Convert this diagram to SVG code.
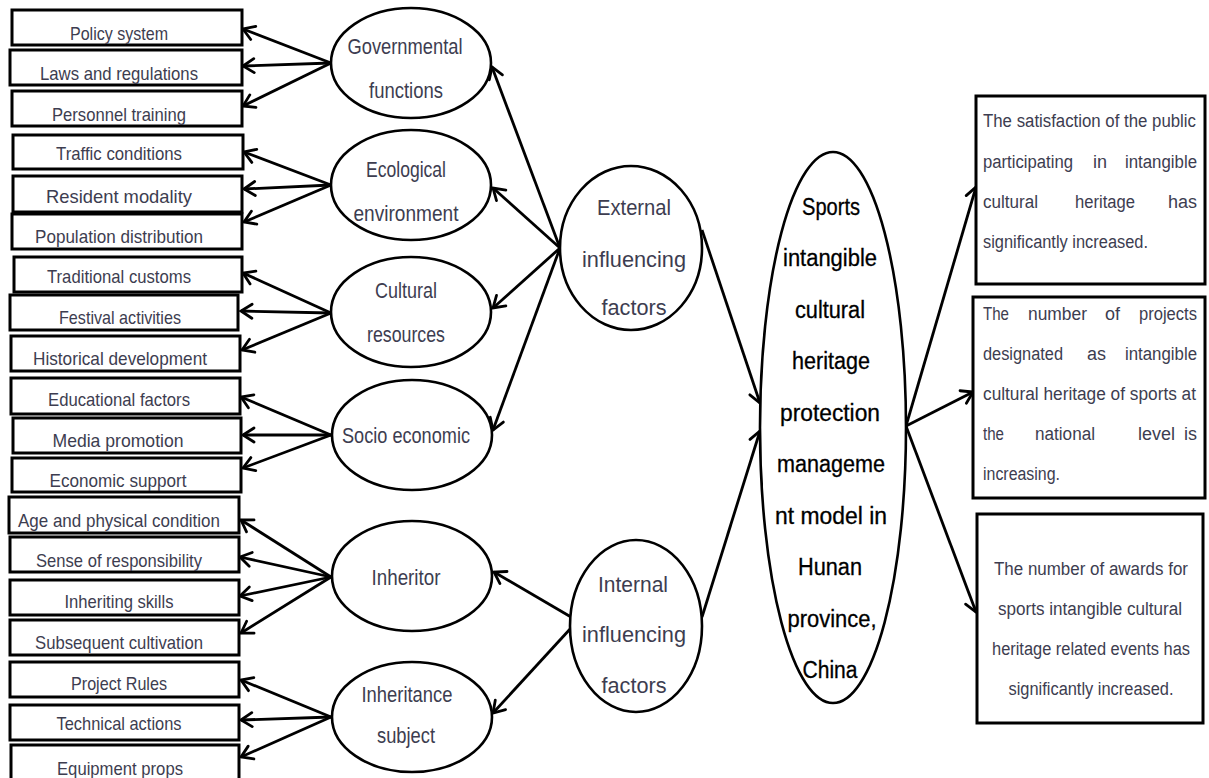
<svg xmlns="http://www.w3.org/2000/svg" width="1209" height="778" viewBox="0 0 1209 778">
<style>
.box{fill:#fff;stroke:#000;stroke-width:3}
.ell{fill:#fff;stroke:#000;stroke-width:2.6}
.lt{font-family:"Liberation Sans",Arial,sans-serif;font-size:19px;fill:#3d3d50;text-anchor:middle}
.et{font-family:"Liberation Sans",Arial,sans-serif;font-size:22px;fill:#3d3d50;text-anchor:middle}
.ct{font-family:"Liberation Sans",Arial,sans-serif;font-size:23px;fill:#000;stroke:#000;stroke-width:0.3;text-anchor:middle}
.rt{font-family:"Liberation Sans",Arial,sans-serif;font-size:18px;fill:#3d3d50}
.con line{stroke:#000;stroke-width:2.8;marker-end:url(#ah)}
</style>
<defs>
<marker id="ah" viewBox="-14 -9 17 18" refX="0" refY="0" markerWidth="17" markerHeight="18" markerUnits="userSpaceOnUse" orient="auto">
<path d="M-11,-7 L0,0 L-11,7" fill="none" stroke="#000" stroke-width="2.8" stroke-linecap="round" stroke-linejoin="miter"/>
</marker>
</defs>
<rect width="1209" height="778" fill="#fff"/>

<g id="connectors" class="con">
<line x1="331" y1="63" x2="243" y2="29"/>
<line x1="331" y1="63" x2="243" y2="66"/>
<line x1="331" y1="63" x2="243" y2="106"/>
<line x1="331" y1="185" x2="244" y2="152"/>
<line x1="331" y1="185" x2="244" y2="189"/>
<line x1="331" y1="185" x2="244" y2="222"/>
<line x1="331" y1="313" x2="243" y2="273"/>
<line x1="331" y1="313" x2="241" y2="311"/>
<line x1="331" y1="313" x2="242" y2="350"/>
<line x1="331" y1="435" x2="241" y2="397"/>
<line x1="331" y1="435" x2="243" y2="435"/>
<line x1="331" y1="435" x2="243" y2="468"/>
<line x1="331" y1="577" x2="241" y2="520"/>
<line x1="331" y1="577" x2="240" y2="557"/>
<line x1="331" y1="577" x2="240" y2="596"/>
<line x1="331" y1="577" x2="241" y2="633"/>
<line x1="331" y1="717" x2="241" y2="680"/>
<line x1="331" y1="717" x2="241" y2="720"/>
<line x1="331" y1="717" x2="241" y2="757"/>
<line x1="560" y1="248" x2="492" y2="67"/>
<line x1="560" y1="248" x2="493" y2="188"/>
<line x1="560" y1="248" x2="493" y2="308"/>
<line x1="560" y1="248" x2="493" y2="430"/>
<line x1="571" y1="617" x2="494" y2="572"/>
<line x1="571" y1="628" x2="493" y2="713"/>
<line x1="702" y1="230" x2="760" y2="403"/>
<line x1="702" y1="617" x2="760" y2="431"/>
<line x1="906" y1="426" x2="976" y2="187"/>
<line x1="906" y1="426" x2="973" y2="392"/>
<line x1="906" y1="426" x2="976" y2="612"/>
</g>

<g id="n-policy"><rect class="box" x="12" y="10" width="230" height="35"/><text class="lt" x="119" y="40" textLength="98" lengthAdjust="spacingAndGlyphs">Policy system</text></g>
<g id="n-laws"><rect class="box" x="10" y="50" width="232" height="35"/><text class="lt" x="119" y="80" textLength="158" lengthAdjust="spacingAndGlyphs">Laws and regulations</text></g>
<g id="n-personnel"><rect class="box" x="12" y="91" width="230" height="35"/><text class="lt" x="119" y="121" textLength="134" lengthAdjust="spacingAndGlyphs">Personnel training</text></g>
<g id="n-traffic"><rect class="box" x="13" y="135" width="230" height="34"/><text class="lt" x="119" y="160" textLength="126" lengthAdjust="spacingAndGlyphs">Traffic conditions</text></g>
<g id="n-resident"><rect class="box" x="13" y="176" width="229" height="36"/><text class="lt" x="119" y="203" textLength="146" lengthAdjust="spacingAndGlyphs">Resident modality</text></g>
<g id="n-population"><rect class="box" x="12" y="214" width="230" height="35"/><text class="lt" x="119" y="243" textLength="168" lengthAdjust="spacingAndGlyphs">Population distribution</text></g>
<g id="n-traditional"><rect class="box" x="14" y="257" width="228" height="35"/><text class="lt" x="119" y="283" textLength="144" lengthAdjust="spacingAndGlyphs">Traditional customs</text></g>
<g id="n-festival"><rect class="box" x="10" y="295" width="228" height="35"/><text class="lt" x="120" y="324" textLength="122" lengthAdjust="spacingAndGlyphs">Festival activities</text></g>
<g id="n-historical"><rect class="box" x="11" y="336" width="229" height="35"/><text class="lt" x="120" y="365" textLength="174" lengthAdjust="spacingAndGlyphs">Historical development</text></g>
<g id="n-educational"><rect class="box" x="11" y="378" width="229" height="36"/><text class="lt" x="119" y="406" textLength="142" lengthAdjust="spacingAndGlyphs">Educational factors</text></g>
<g id="n-media"><rect class="box" x="13" y="418" width="228" height="35"/><text class="lt" x="118" y="447" textLength="131" lengthAdjust="spacingAndGlyphs">Media promotion</text></g>
<g id="n-economic"><rect class="box" x="12" y="458" width="229" height="34"/><text class="lt" x="118" y="487" textLength="137" lengthAdjust="spacingAndGlyphs">Economic support</text></g>
<g id="n-age"><rect class="box" x="9" y="497" width="230" height="36"/><text class="lt" x="119" y="527" textLength="202" lengthAdjust="spacingAndGlyphs">Age and physical condition</text></g>
<g id="n-sense"><rect class="box" x="10" y="537" width="229" height="35"/><text class="lt" x="119" y="567" textLength="166" lengthAdjust="spacingAndGlyphs">Sense of responsibility</text></g>
<g id="n-skills"><rect class="box" x="10" y="580" width="229" height="35"/><text class="lt" x="119" y="608" textLength="109" lengthAdjust="spacingAndGlyphs">Inheriting skills</text></g>
<g id="n-subsequent"><rect class="box" x="10" y="620" width="229" height="35"/><text class="lt" x="119" y="649" textLength="168" lengthAdjust="spacingAndGlyphs">Subsequent cultivation</text></g>
<g id="n-rules"><rect class="box" x="10" y="662" width="229" height="35"/><text class="lt" x="119" y="690" textLength="96" lengthAdjust="spacingAndGlyphs">Project Rules</text></g>
<g id="n-technical"><rect class="box" x="10" y="705" width="229" height="35"/><text class="lt" x="119" y="730" textLength="125" lengthAdjust="spacingAndGlyphs">Technical actions</text></g>
<g id="n-equipment"><rect class="box" x="11" y="745" width="228" height="40"/><text class="lt" x="120" y="775" textLength="126" lengthAdjust="spacingAndGlyphs">Equipment props</text></g>

<g id="n-governmental"><ellipse class="ell" cx="411" cy="63" rx="80" ry="55"/><text class="et" x="405" y="54" textLength="115" lengthAdjust="spacingAndGlyphs">Governmental</text><text class="et" x="406" y="98" textLength="74" lengthAdjust="spacingAndGlyphs">functions</text></g>
<g id="n-ecological"><ellipse class="ell" cx="411" cy="185" rx="80" ry="55"/><text class="et" x="406" y="177" textLength="80" lengthAdjust="spacingAndGlyphs">Ecological</text><text class="et" x="406" y="221" textLength="105" lengthAdjust="spacingAndGlyphs">environment</text></g>
<g id="n-cultural"><ellipse class="ell" cx="411" cy="312" rx="80" ry="55"/><text class="et" x="406" y="298" textLength="62" lengthAdjust="spacingAndGlyphs">Cultural</text><text class="et" x="406" y="342" textLength="78" lengthAdjust="spacingAndGlyphs">resources</text></g>
<g id="n-socio"><ellipse class="ell" cx="412" cy="435" rx="80" ry="55"/><text class="et" x="406" y="443" textLength="128" lengthAdjust="spacingAndGlyphs">Socio economic</text></g>
<g id="n-inheritor"><ellipse class="ell" cx="412" cy="576" rx="80" ry="55"/><text class="et" x="406" y="585" textLength="69" lengthAdjust="spacingAndGlyphs">Inheritor</text></g>
<g id="n-inheritance"><ellipse class="ell" cx="412" cy="717" rx="80" ry="55"/><text class="et" x="407" y="702" textLength="91" lengthAdjust="spacingAndGlyphs">Inheritance</text><text class="et" x="406" y="743" textLength="58" lengthAdjust="spacingAndGlyphs">subject</text></g>

<g id="n-external"><ellipse class="ell" cx="631" cy="248" rx="71" ry="82"/><text class="et" x="634" y="215" textLength="74" lengthAdjust="spacingAndGlyphs">External</text><text class="et" x="634" y="267" textLength="104" lengthAdjust="spacingAndGlyphs">influencing</text><text class="et" x="634" y="315" textLength="65" lengthAdjust="spacingAndGlyphs">factors</text></g>
<g id="n-internal"><ellipse class="ell" cx="636" cy="626" rx="66" ry="86"/><text class="et" x="633" y="592" textLength="70" lengthAdjust="spacingAndGlyphs">Internal</text><text class="et" x="634" y="642" textLength="104" lengthAdjust="spacingAndGlyphs">influencing</text><text class="et" x="634" y="693" textLength="65" lengthAdjust="spacingAndGlyphs">factors</text></g>

<g id="n-central"><ellipse class="ell" cx="833" cy="427.5" rx="73" ry="275.5"/>
<text class="ct" x="831" y="215" textLength="58" lengthAdjust="spacingAndGlyphs">Sports</text>
<text class="ct" x="830" y="266" textLength="94" lengthAdjust="spacingAndGlyphs">intangible</text>
<text class="ct" x="830" y="318" textLength="70" lengthAdjust="spacingAndGlyphs">cultural</text>
<text class="ct" x="831" y="369" textLength="78" lengthAdjust="spacingAndGlyphs">heritage</text>
<text class="ct" x="830" y="421" textLength="100" lengthAdjust="spacingAndGlyphs">protection</text>
<text class="ct" x="831" y="472" textLength="108" lengthAdjust="spacingAndGlyphs">manageme</text>
<text class="ct" x="831" y="524" textLength="112" lengthAdjust="spacingAndGlyphs">nt model in</text>
<text class="ct" x="830" y="575" textLength="64" lengthAdjust="spacingAndGlyphs">Hunan</text>
<text class="ct" x="832" y="627" textLength="89" lengthAdjust="spacingAndGlyphs">province,</text>
<text class="ct" x="830" y="678" textLength="55" lengthAdjust="spacingAndGlyphs">China</text>
</g>

<g id="n-out1"><rect class="box" x="976" y="96" width="229" height="188"/>
<text class="rt" x="983" y="127" textLength="213" lengthAdjust="spacingAndGlyphs">The satisfaction of the public</text>
<text class="rt" x="983" y="168" textLength="90" lengthAdjust="spacingAndGlyphs">participating</text>
<text class="rt" x="1093" y="168">in</text>
<text class="rt" x="1197" y="168" text-anchor="end" textLength="72" lengthAdjust="spacingAndGlyphs">intangible</text>
<text class="rt" x="983" y="208" textLength="55" lengthAdjust="spacingAndGlyphs">cultural</text>
<text class="rt" x="1075" y="208" textLength="60" lengthAdjust="spacingAndGlyphs">heritage</text>
<text class="rt" x="1197" y="208" text-anchor="end">has</text>
<text class="rt" x="983" y="248" textLength="165" lengthAdjust="spacingAndGlyphs">significantly increased.</text>
</g>
<g id="n-out2"><rect class="box" x="973" y="297" width="232" height="201"/>
<text class="rt" x="983" y="320" textLength="26" lengthAdjust="spacingAndGlyphs">The</text>
<text class="rt" x="1028" y="320" textLength="59" lengthAdjust="spacingAndGlyphs">number</text>
<text class="rt" x="1105" y="320">of</text>
<text class="rt" x="1197" y="320" text-anchor="end" textLength="58" lengthAdjust="spacingAndGlyphs">projects</text>
<text class="rt" x="983" y="360" textLength="80" lengthAdjust="spacingAndGlyphs">designated</text>
<text class="rt" x="1087" y="360">as</text>
<text class="rt" x="1197" y="360" text-anchor="end" textLength="72" lengthAdjust="spacingAndGlyphs">intangible</text>
<text class="rt" x="983" y="400" textLength="213" lengthAdjust="spacingAndGlyphs">cultural heritage of sports at</text>
<text class="rt" x="983" y="440" textLength="21" lengthAdjust="spacingAndGlyphs">the</text>
<text class="rt" x="1035" y="440" textLength="60" lengthAdjust="spacingAndGlyphs">national</text>
<text class="rt" x="1138" y="440" textLength="37" lengthAdjust="spacingAndGlyphs">level</text>
<text class="rt" x="1197" y="440" text-anchor="end">is</text>
<text class="rt" x="983" y="480" textLength="77" lengthAdjust="spacingAndGlyphs">increasing.</text>
</g>
<g id="n-out3"><rect class="box" x="977" y="514" width="226" height="209"/>
<text class="rt" x="1091" y="575" text-anchor="middle" textLength="194" lengthAdjust="spacingAndGlyphs">The number of awards for</text>
<text class="rt" x="1090" y="615" text-anchor="middle" textLength="184" lengthAdjust="spacingAndGlyphs">sports intangible cultural</text>
<text class="rt" x="1091" y="655" text-anchor="middle" textLength="198" lengthAdjust="spacingAndGlyphs">heritage related events has</text>
<text class="rt" x="1091" y="695" text-anchor="middle" textLength="165" lengthAdjust="spacingAndGlyphs">significantly increased.</text>
</g>
</svg>
